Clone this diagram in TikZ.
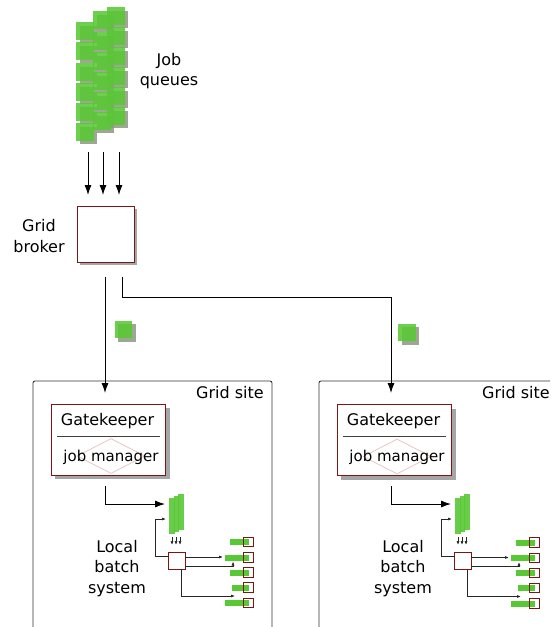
\documentclass[tikz,border=0pt]{standalone}
\usepackage{fontspec}
\setmainfont{DejaVu Sans}
\usetikzlibrary{arrows.meta,shadows,shapes.geometric}

\definecolor{jobgreen}{RGB}{88,200,52}
\definecolor{boxred}{RGB}{122,22,22}
\definecolor{mgrpink}{RGB}{232,198,198}
\definecolor{shadegray}{RGB}{140,152,128}

\begin{document}
\begin{tikzpicture}[
  x=1pt, y=-1pt,
  lbl/.style={font=\fontsize{16}{20.5}\selectfont, align=center, inner sep=0pt},
  job/.style={rectangle, fill=jobgreen, fill opacity=0.88, minimum size=17.5pt,
    inner sep=0pt, drop shadow={shadow xshift=3.5pt, shadow yshift=-3.5pt,
    fill=shadegray, opacity=0.85}},
  brokerbox/.style={rectangle, draw=boxred, fill=white, line width=0.9pt,
    minimum width=57pt, minimum height=56pt, drop shadow={shadow xshift=3pt,
    shadow yshift=-3pt, fill=black!35, opacity=1}},
  gkbox/.style={rectangle, draw=boxred, fill=white, line width=0.9pt,
    minimum width=114.5pt, minimum height=71pt, drop shadow={shadow xshift=4pt,
    shadow yshift=-4pt, fill=black!35, opacity=1}},
  mgr/.style={diamond, draw=mgrpink, line width=0.8pt, minimum width=68pt,
    minimum height=35pt, inner sep=0pt},
  lqueue/.style={rectangle, fill=jobgreen, fill opacity=0.9, minimum width=5.5pt,
    minimum height=36pt, inner sep=0pt},
  batchbox/.style={rectangle, draw=boxred, fill=white, line width=0.8pt,
    minimum size=17pt, inner sep=0pt},
  wnode/.style={rectangle, draw=boxred, line width=0.8pt, minimum width=10pt,
    minimum height=9.5pt, inner sep=0pt},
  wjob/.style={rectangle, fill=jobgreen, minimum height=6pt, inner sep=0pt,
    anchor=east},
  site/.style={draw=black!80, line width=0.9pt, rounded corners=2pt},
  sepline/.style={draw=black!75, line width=0.9pt},
  conn/.style={draw=black, line width=0.9pt, -{Latex[length=10pt,width=7pt]}},
  small/.style={draw=black!85, line width=0.7pt, -{Latex[length=4pt,width=3pt]}},
]

\useasboundingbox (0,0) rectangle (550,627);
\clip (0,0) rectangle (550,627);

% Site spacing
\def\sitex{286}

% Job queues
\node[job] (q11) at (85,31) {};
\node[job] (q12) at (85,51) {};
\node[job] (q13) at (85,72) {};
\node[job] (q14) at (85,92) {};
\node[job] (q15) at (85,112) {};
\node[job] (q16) at (85,132) {};
\node[job] (q21) at (102,20) {};
\node[job] (q22) at (102,41) {};
\node[job] (q23) at (102,61) {};
\node[job] (q24) at (102,81) {};
\node[job] (q25) at (102,101) {};
\node[job] (q26) at (102,121) {};
\node[job] (q31) at (116,16) {};
\node[job] (q32) at (116,36) {};
\node[job] (q33) at (116,56) {};
\node[job] (q34) at (116,76) {};
\node[job] (q35) at (116,96) {};
\node[job] (q36) at (116,116) {};
\node[lbl] (queuelbl) at (169,71) {Job\\queues};

% Queues to broker
\coordinate (qa1) at (88,152);
\coordinate (qb1) at (88,195);
\coordinate (qa2) at (103,152);
\coordinate (qb2) at (103,195);
\coordinate (qa3) at (119,152);
\coordinate (qb3) at (119,195);
\draw[conn] (qa1) -- (qb1);
\draw[conn] (qa2) -- (qb2);
\draw[conn] (qa3) -- (qb3);

% Grid broker
\node[brokerbox] (broker) at (105.5,234) {};
\node[lbl] (brokerlbl) at (39,236) {Grid\\broker};

% Broker to sites
\coordinate (b1) at (105,277);
\coordinate (s1in) at (105,393);
\coordinate (b2) at (122,277);
\coordinate (bend) at (391,297);
\coordinate (s2in) at (391,393);
\draw[conn] (b1) -- (s1in);
\draw[conn] (b2) |- (bend) -- (s2in);

% Jobs in transit
\node[job] (travel1) at (123.5,329.5) {};
\node[job] (travel2) at (407,332.5) {};

% Site 1
\draw[site] (33,627) -- (33,381) -- (272,381) -- (272,627);
\node[lbl, anchor=east] (site1lbl) at (264,392.2) {Grid site};
\node[gkbox] (gk1) at (108.3,439.5) {};
\node[lbl] (gk1lbl) at (107.5,421) {Gatekeeper};
\draw[sepline] (57,436) -- (160,436);
\node[mgr] (jm1) at (111,456) {};
\node[lbl, font=\fontsize{15}{18}\selectfont] (jm1lbl) at (111,457) {job manager};

\coordinate (g1) at (105,486);
\coordinate (g1end) at (165,504);
\draw[conn] (g1) |- (g1end);

\node[lqueue] (lq11) at (172,516) {};
\node[lqueue] (lq12) at (176.5,514) {};
\node[lqueue] (lq13) at (181,512) {};
\coordinate (la11) at (172,537);
\coordinate (lb11) at (172,545);
\coordinate (la12) at (176,537);
\coordinate (lb12) at (176,545);
\coordinate (la13) at (180,537);
\coordinate (lb13) at (180,545);
\draw[small] (la11) -- (lb11);
\draw[small] (la12) -- (lb12);
\draw[small] (la13) -- (lb13);

\node[batchbox] (lb1) at (176.5,560.5) {};
\node[lbl] (lbs1) at (117,568.5) {Local\\batch\\system};

\node[wjob, minimum width=19pt] (wj11) at (249,542) {};
\node[wjob, minimum width=24pt] (wj12) at (249,557.5) {};
\node[wjob, minimum width=19pt] (wj13) at (249,572.5) {};
\node[wjob, minimum width=17pt] (wj14) at (249,587.5) {};
\node[wjob, minimum width=24pt] (wj15) at (249,603) {};
\node[wnode] (w11) at (248,542) {};
\node[wnode] (w12) at (248,557.5) {};
\node[wnode] (w13) at (248,572.5) {};
\node[wnode] (w14) at (248,587.5) {};
\node[wnode] (w15) at (248,603) {};

\coordinate (fb1) at (166,519);
\coordinate (o11) at (223,557);
\coordinate (o12) at (233,561.5);
\coordinate (o13) at (235,596);
\draw[small] ([yshift=4.5pt]lb1.west) -- ++(-12,0) |- (fb1);
\draw[small] ([yshift=3.5pt]lb1.east) -- (o11);
\draw[small] ([yshift=-5.5pt]lb1.east) -| (o12);
\draw[small] ([xshift=4.5pt]lb1.south) |- (o13);

% Site 2
\draw[site] (\sitex+33,627) -- (\sitex+33,381) -- (\sitex+272,381) -- (\sitex+272,627);
\node[lbl, anchor=east] (site2lbl) at (\sitex+264,392.2) {Grid site};
\node[gkbox] (gk2) at (\sitex+108.3,440) {};
\node[lbl] (gk2lbl) at (\sitex+107.5,421.5) {Gatekeeper};
\draw[sepline] (\sitex+57,436.5) -- (\sitex+160,436.5);
\node[mgr] (jm2) at (\sitex+111,456.5) {};
\node[lbl, font=\fontsize{15}{18}\selectfont] (jm2lbl) at (\sitex+111,457.5) {job manager};

\coordinate (g2) at (\sitex+105,486);
\coordinate (g2end) at (\sitex+165,504);
\draw[conn] (g2) |- (g2end);

\node[lqueue] (lq21) at (\sitex+172,516) {};
\node[lqueue] (lq22) at (\sitex+176.5,514) {};
\node[lqueue] (lq23) at (\sitex+181,512) {};
\coordinate (la21) at (\sitex+172,537);
\coordinate (lb21) at (\sitex+172,545);
\coordinate (la22) at (\sitex+176,537);
\coordinate (lb22) at (\sitex+176,545);
\coordinate (la23) at (\sitex+180,537);
\coordinate (lb23) at (\sitex+180,545);
\draw[small] (la21) -- (lb21);
\draw[small] (la22) -- (lb22);
\draw[small] (la23) -- (lb23);

\node[batchbox] (lb2) at (\sitex+176.5,561) {};
\node[lbl] (lbs2) at (\sitex+117,568.5) {Local\\batch\\system};

\node[wjob, minimum width=19pt] (wj21) at (\sitex+249,542.5) {};
\node[wjob, minimum width=24pt] (wj22) at (\sitex+249,558) {};
\node[wjob, minimum width=19pt] (wj23) at (\sitex+249,573) {};
\node[wjob, minimum width=17pt] (wj24) at (\sitex+249,588) {};
\node[wjob, minimum width=24pt] (wj25) at (\sitex+249,603.5) {};
\node[wnode] (w21) at (\sitex+248,542.5) {};
\node[wnode] (w22) at (\sitex+248,558) {};
\node[wnode] (w23) at (\sitex+248,573) {};
\node[wnode] (w24) at (\sitex+248,588) {};
\node[wnode] (w25) at (\sitex+248,603.5) {};

\coordinate (fb2) at (\sitex+166,519);
\coordinate (o21) at (\sitex+223,557.5);
\coordinate (o22) at (\sitex+233,562);
\coordinate (o23) at (\sitex+235,596.5);
\draw[small] ([yshift=4.5pt]lb2.west) -- ++(-12,0) |- (fb2);
\draw[small] ([yshift=3.5pt]lb2.east) -- (o21);
\draw[small] ([yshift=-5.5pt]lb2.east) -| (o22);
\draw[small] ([xshift=4.5pt]lb2.south) |- (o23);

\end{tikzpicture}
\end{document}
